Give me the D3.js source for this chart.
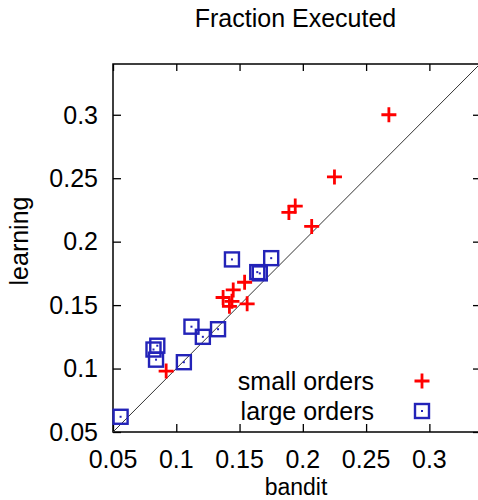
<!DOCTYPE html>
<html>
<head>
<meta charset="utf-8">
<script src="https://cdn.jsdelivr.net/npm/d3@7"></script>
<style>
    html, body { margin: 0; padding: 0; background: #fff; }
    svg { display: block; font-family: "Liberation Sans", Arial, sans-serif; }
</style>
</head>
<body>
<div id="chart"></div>
<script>
// Data
const smallBandit   = [0.268, 0.225, 0.194, 0.189, 0.207, 0.154, 0.145, 0.137, 0.144, 0.142, 0.156, 0.092];
const smallLearning = [0.300, 0.251, 0.228, 0.223, 0.212, 0.168, 0.162, 0.156, 0.153, 0.149, 0.151, 0.098];
const largeBandit   = [0.056, 0.082, 0.085, 0.084, 0.106, 0.112, 0.121, 0.133, 0.144, 0.175, 0.164, 0.166];
const largeLearning = [0.062, 0.115, 0.118, 0.107, 0.105, 0.133, 0.125, 0.131, 0.186, 0.187, 0.176, 0.175];
const tickValues = [0.05, 0.1, 0.15, 0.2, 0.25, 0.3];
const tickLabels = ["0.05", "0.1", "0.15", "0.2", "0.25", "0.3"];
const legendLabels = ["small orders", "large orders"];

// Constants
const WIDTH = 478, HEIGHT = 500;
const PLOT = { left: 113, right: 480, top: 64, bottom: 432 };
const DOMAIN = [0.05, 0.34];
const COLORS = { small: '#ff0000', large: '#2323b8', axis: '#000', diag: '#333' };
const FONT = 25;

const svg = d3.select('#chart').append('svg')
    .attr('width', WIDTH)
    .attr('height', HEIGHT);

const x = d3.scaleLinear().domain(DOMAIN).range([PLOT.left, PLOT.right]);
const y = d3.scaleLinear().domain(DOMAIN).range([PLOT.bottom, PLOT.top]);

svg.append('defs').append('clipPath').attr('id', 'clip')
    .append('rect')
    .attr('x', PLOT.left).attr('y', PLOT.top)
    .attr('width', PLOT.right - PLOT.left).attr('height', PLOT.bottom - PLOT.top);

// Axes (ticks point inward, mirrored on top / right)
const fmt = (d, i) => tickLabels[i];
svg.append('g')
    .attr('transform', `translate(0,${PLOT.bottom})`)
    .call(d3.axisTop(x).tickValues(tickValues).tickSize(8).tickFormat(''))
    .call(g => g.select('.domain').remove());
svg.append('g')
    .attr('transform', `translate(0,${PLOT.top})`)
    .call(d3.axisBottom(x).tickValues(tickValues).tickSize(7).tickFormat(''))
    .call(g => g.select('.domain').remove());
svg.append('g')
    .attr('transform', `translate(${PLOT.left},0)`)
    .call(d3.axisRight(y).tickValues(tickValues).tickSize(8).tickFormat(''))
    .call(g => g.select('.domain').remove());
svg.append('g')
    .attr('transform', `translate(${PLOT.right},0)`)
    .call(d3.axisLeft(y).tickValues(tickValues).tickSize(7).tickFormat(''))
    .call(g => g.select('.domain').remove());
svg.selectAll('.tick line').attr('stroke', COLORS.axis).attr('stroke-width', 1.3);

// Tick labels
svg.append('g').selectAll('text')
    .data(tickValues)
    .join('text')
    .attr('x', d => x(d))
    .attr('y', 468)
    .attr('text-anchor', 'middle')
    .attr('font-size', FONT)
    .text(fmt);
svg.append('g').selectAll('text')
    .data(tickValues)
    .join('text')
    .attr('x', 98)
    .attr('y', d => y(d))
    .attr('dy', '0.35em')
    .attr('text-anchor', 'end')
    .attr('font-size', FONT)
    .text(fmt);

// Frame
svg.append('rect')
    .attr('x', PLOT.left).attr('y', PLOT.top)
    .attr('width', PLOT.right - PLOT.left).attr('height', PLOT.bottom - PLOT.top)
    .attr('fill', 'none')
    .attr('stroke', COLORS.axis)
    .attr('stroke-width', 1.5);

// y = x reference line
svg.append('line')
    .attr('clip-path', 'url(#clip)')
    .attr('x1', x(DOMAIN[0])).attr('y1', y(DOMAIN[0]))
    .attr('x2', x(DOMAIN[1])).attr('y2', y(DOMAIN[1]))
    .attr('stroke', COLORS.diag)
    .attr('stroke-width', 1);

// Marker helpers
function cross(g, cx, cy) {
    g.append('path')
        .attr('d', `M${cx - 7.5},${cy}H${cx + 7.5}M${cx},${cy - 7.5}V${cy + 7.5}`)
        .attr('stroke', COLORS.small)
        .attr('stroke-width', 2.8)
        .attr('fill', 'none');
}
function box(g, cx, cy) {
    g.append('rect')
        .attr('x', cx - 7).attr('y', cy - 7)
        .attr('width', 14).attr('height', 14)
        .attr('fill', 'none')
        .attr('stroke', COLORS.large)
        .attr('stroke-width', 2.4);
    g.append('rect')
        .attr('x', cx - 1).attr('y', cy - 1)
        .attr('width', 2).attr('height', 2)
        .attr('fill', COLORS.large);
}

// Points
const large = svg.append('g');
largeBandit.forEach((b, i) => box(large, x(b), y(largeLearning[i])));
const small = svg.append('g');
smallBandit.forEach((b, i) => cross(small, x(b), y(smallLearning[i])));

// Legend
const legend = svg.append('g');
legendLabels.forEach((label, i) => {
    const ly = 381 + i * 30;
    legend.append('text')
        .attr('x', 374)
        .attr('y', ly)
        .attr('dy', '0.35em')
        .attr('text-anchor', 'end')
        .attr('font-size', FONT)
        .text(label);
    if (i === 0) cross(legend, 422, ly);
    else box(legend, 422, ly);
});

// Titles
svg.append('text')
    .attr('x', (PLOT.left + PLOT.right) / 2 - 1)
    .attr('y', 27)
    .attr('text-anchor', 'middle')
    .attr('font-size', FONT)
    .text('Fraction Executed');
svg.append('text')
    .attr('x', 296)
    .attr('y', 495)
    .attr('text-anchor', 'middle')
    .attr('font-size', 23)
    .text('bandit');
svg.append('text')
    .attr('transform', 'translate(28,241) rotate(-90)')
    .attr('text-anchor', 'middle')
    .attr('font-size', FONT)
    .text('learning');
</script>
</body>
</html>
